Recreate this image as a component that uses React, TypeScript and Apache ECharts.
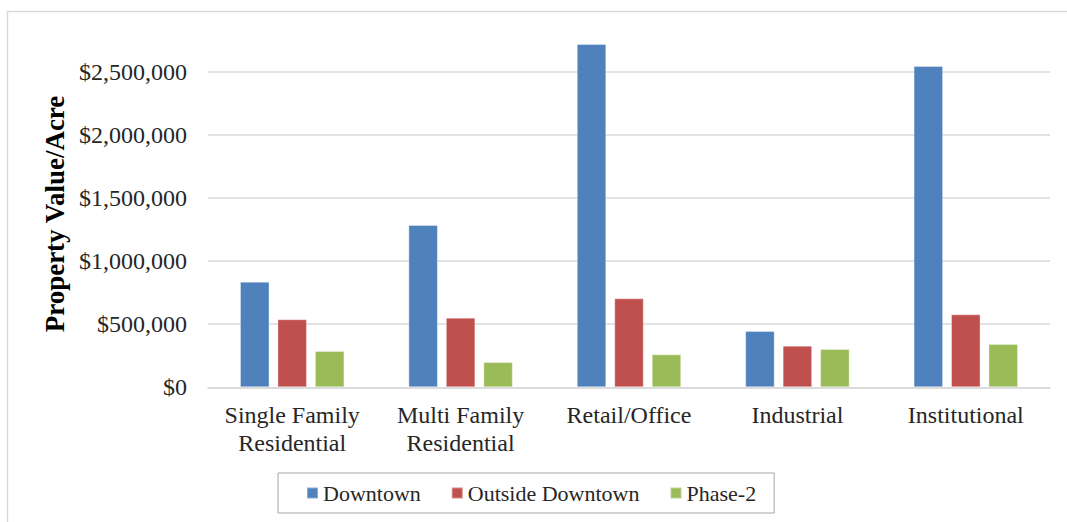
import React, { useEffect, useRef } from "react";
import * as echarts from "echarts";

const categories = [
  "Single Family\nResidential",
  "Multi Family\nResidential",
  "Retail/Office",
  "Industrial",
  "Institutional",
];
const seriesNames = ["Downtown", "Outside Downtown", "Phase-2"];
const downtown = [837000, 1286000, 2720000, 446000, 2546000];
const outsideDowntown = [539000, 552000, 705000, 330000, 578000];
const phase2 = [288000, 200000, 261000, 303000, 343000];
const colors = ["#4F81BD", "#C0504D", "#9BBB59"];
const yAxisTitle = "Property Value/Acre";

const FONT = "'Liberation Serif', 'Times New Roman', serif";

export default function App() {
  const ref = useRef<HTMLDivElement>(null);
  useEffect(() => {
    document.body.style.margin = "0";
    if (!ref.current) return;
    const chart = echarts.init(ref.current, undefined, { renderer: "svg" });
    const data = [downtown, outsideDowntown, phase2];
    chart.setOption({
      animation: false,
      backgroundColor: "#ffffff",
      textStyle: { fontFamily: FONT },
      grid: { left: 208, right: 17, top: 8.7, bottom: 134.7, containLabel: false },
      legend: {
        data: seriesNames,
        left: 278,
        top: 473,
        itemWidth: 11,
        itemHeight: 11,
        itemGap: 30,
        icon: "rect",
        padding: [9, 18, 9, 28],
        borderColor: "#A6A6A6",
        borderWidth: 1,
        textStyle: { fontFamily: FONT, fontSize: 22, color: "#262626" },
      },
      xAxis: {
        type: "category",
        data: categories,
        axisLine: { show: true, lineStyle: { color: "#D9D9D9", width: 1.5 } },
        axisTick: { show: false },
        axisLabel: {
          fontFamily: FONT,
          fontSize: 24,
          color: "#262626",
          lineHeight: 28,
          margin: 14,
          interval: 0,
        },
      },
      yAxis: {
        type: "value",
        min: 0,
        max: 3000000,
        interval: 500000,
        axisLine: { show: false },
        axisTick: { show: false },
        splitLine: { show: true, showMaxLine: false, lineStyle: { color: "#D9D9D9", width: 1.5 } },
        axisLabel: {
          fontFamily: FONT,
          fontSize: 24,
          color: "#262626",
          margin: 21,
          showMaxLabel: false,
          formatter: (v: number) => "$" + v.toLocaleString("en-US"),
        },
      },
      graphic: [
        {
          type: "rect",
          shape: { x: 7.5, y: 11.5, width: 1200, height: 600 },
          style: { fill: "none", stroke: "#D9D9D9", lineWidth: 1.5 },
          silent: true,
          z: -10,
        },
        {
          type: "text",
          x: 55,
          y: 214,
          rotation: Math.PI / 2,
          style: {
            text: yAxisTitle,
            font: "bold 27px " + FONT,
            fill: "#000000",
            align: "center",
            verticalAlign: "middle",
          },
        },
      ],
      series: seriesNames.map((name, i) => ({
        name,
        type: "bar",
        data: data[i],
        barWidth: 29.5,
        barGap: "27%",
        itemStyle: { color: colors[i], borderColor: "rgba(255,255,255,0.35)", borderWidth: 1 },
      })),
    });
    return () => chart.dispose();
  }, []);
  return <div ref={ref} style={{ width: 1067, height: 522 }} />;
}
